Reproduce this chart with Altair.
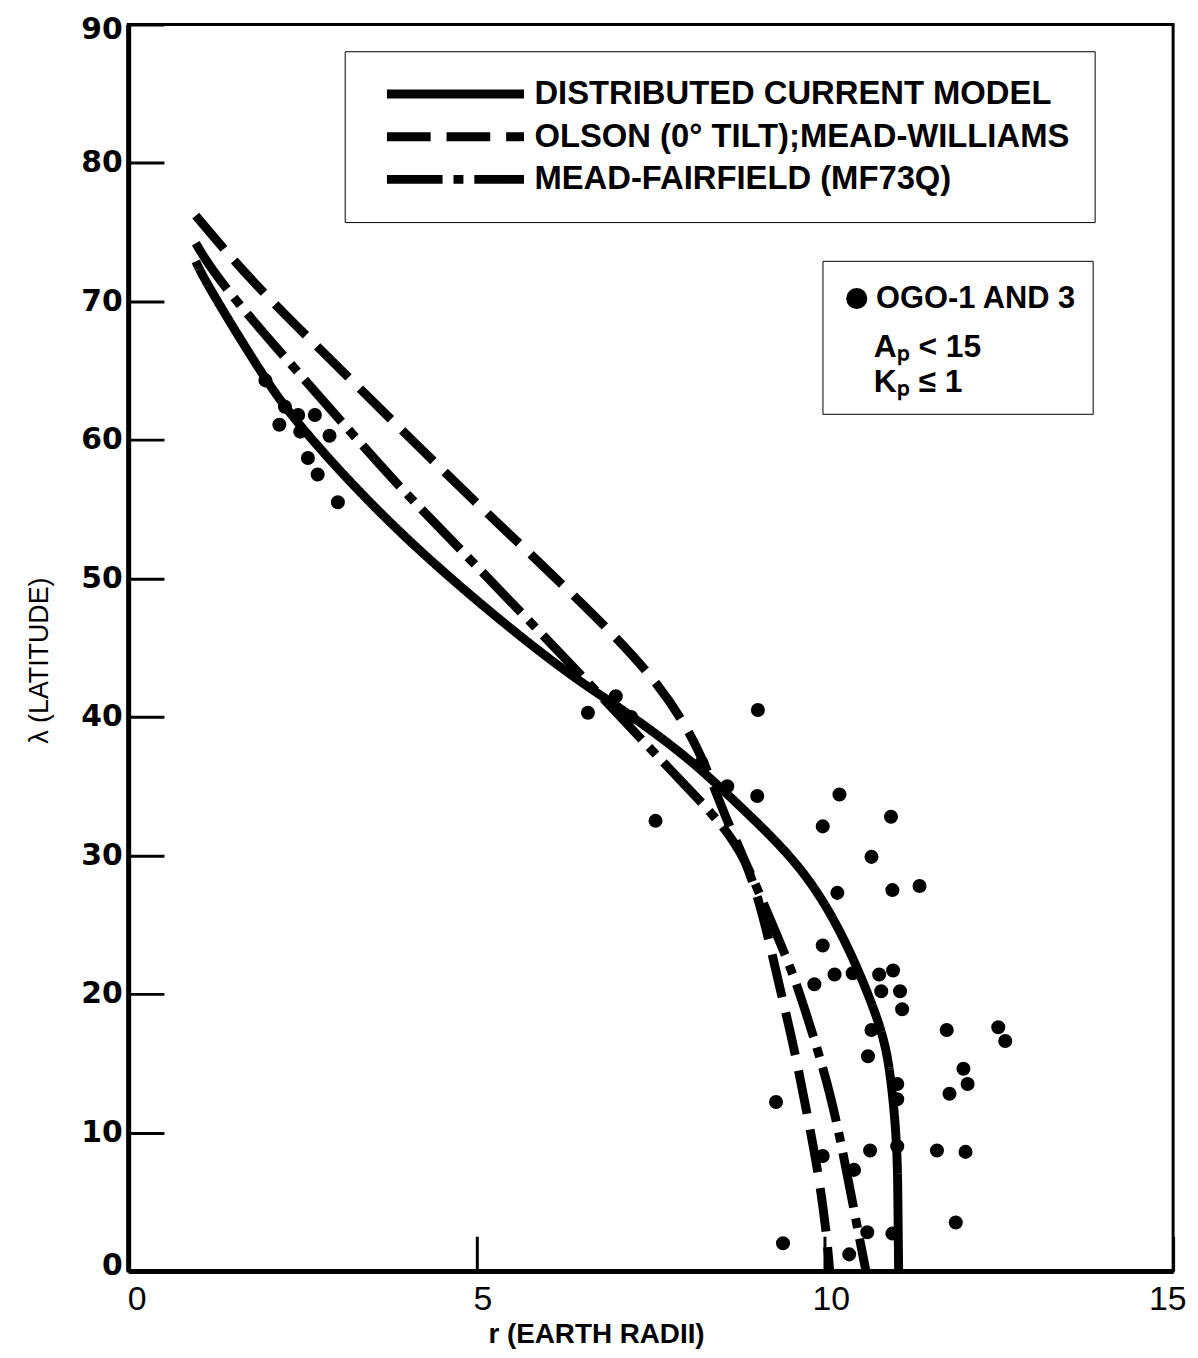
import altair as alt
import pandas as pd

FONT = "Liberation Sans, Arial, sans-serif"
NUMFONT = "DejaVu Sans, sans-serif"

MODELS = ["DISTRIBUTED CURRENT MODEL", "OLSON (0° TILT);MEAD-WILLIAMS", "MEAD-FAIRFIELD (MF73Q)"]

# Distributed current model (solid)
dcm_r = [0.97, 1.11, 1.97, 2.48, 3.96, 6.15, 7.00, 8.04, 8.71, 9.67, 10.24, 10.61, 10.85, 10.95, 11.04, 11.05, 11.06]
dcm_lat = [72.9, 71.4, 64.3, 60.8, 52.7, 43.6, 40.9, 37.1, 33.9, 29.3, 24.5, 20.2, 16.9, 14.0, 9.2, 4.7, 0.0]

# Olson (0 deg tilt); Mead-Williams (dashed)
ols_r = [0.97, 1.77, 3.05, 4.29, 5.30, 6.40, 7.61, 8.24, 8.57, 9.00, 9.33, 9.54, 9.74, 9.90, 10.02, 10.07]
ols_lat = [76.2, 71.4, 65.1, 58.9, 54.0, 48.8, 42.7, 37.4, 32.6, 28.3, 20.9, 16.6, 11.5, 7.3, 3.0, 0.0]

# Mead-Fairfield MF73Q (dash-dot)
mf_r = [0.97, 1.30, 2.68, 3.82, 4.29, 6.57, 7.81, 8.71, 9.03, 9.53, 9.68, 10.10, 10.38, 10.59]
mf_lat = [74.2, 71.4, 63.5, 57.0, 54.6, 42.7, 36.0, 31.4, 27.6, 21.7, 19.4, 12.8, 5.4, 0.0]

# OGO-1 and 3 observations
obs_r = [1.97, 2.25, 2.44, 2.68, 2.17, 2.47, 2.89, 2.58, 2.72, 3.01,
         6.60, 7.00, 7.22, 9.04, 7.57, 9.03, 8.60, 8.23, 9.97, 10.21,
         10.95, 10.67, 10.18, 10.97, 11.36, 9.97, 10.14, 9.85, 10.40, 10.78,
         10.98, 10.81, 11.08, 11.11, 10.67, 11.75, 12.49, 12.59, 10.62, 11.99,
         12.05, 11.79, 11.04, 11.04, 9.30, 10.65, 11.61, 12.02, 11.04, 9.97,
         10.42, 11.88, 10.61, 10.97, 9.40, 10.35]
obs_lat = [64.3, 62.4, 61.8, 61.8, 61.1, 60.6, 60.3, 58.7, 57.5, 55.5,
           40.3, 41.5, 40.0, 40.5, 32.5, 34.3, 35.0, 36.7, 32.1, 34.4,
           32.8, 29.9, 27.3, 27.5, 27.8, 23.5, 21.4, 20.7, 21.5, 21.4,
           21.7, 20.2, 20.2, 18.9, 17.4, 17.4, 17.6, 16.6, 15.5, 14.6,
           13.5, 12.8, 13.5, 12.4, 12.2, 8.7, 8.7, 8.6, 9.0, 8.3,
           7.3, 3.5, 2.8, 2.7, 2.0, 1.2]

x_ticks = [0, 5, 10, 15]
y_ticks = [0, 10, 20, 30, 40, 50, 60, 70, 80, 90]

frames = []
for name, rs, lats in zip(MODELS, [dcm_r, ols_r, mf_r], [dcm_lat, ols_lat, mf_lat]):
    frames.append(pd.DataFrame({"r": rs, "lat": lats, "model": name, "ord": list(range(len(rs)))}))
lines_df = pd.concat(frames, ignore_index=True)
obs_df = pd.DataFrame({"r": obs_r, "lat": obs_lat, "src": "OGO-1 AND 3"})

x_scale = alt.Scale(domain=[0, 15], nice=False, zero=False)
y_scale = alt.Scale(domain=[0, 90], nice=False, zero=False)

x_axis = alt.Axis(values=x_ticks, format="d", title="r (EARTH RADII)", titleFont=FONT, titleFontSize=28,
                  titleFontWeight="bold", titleColor="black", titleX=471, titleY=64, titleBaseline="middle",
                  labelFont=FONT, labelFontSize=34, labelColor="black", labelPadding=12,
                  labelFlush=True, labelFlushOffset=7, labelOffset=6,
                  ticks=False, domainColor="black", domainWidth=5,
                  grid=True, gridColor="black", gridWidth=3, gridOpacity=1,
                  gridDash=[35, 1220], gridDashOffset=35)
y_axis = alt.Axis(values=y_ticks, format="d", title="λ (LATITUDE)", titleFont=FONT, titleFontSize=27,
                  titleFontWeight="normal", titleColor="black", titleX=-89, titleY=640,
                  titleBaseline="middle", titleAngle=-90,
                  labelFont=NUMFONT, labelFontSize=30, labelFontWeight="bold", labelColor="black",
                  labelPadding=6, labelFlush=True, labelFlushOffset=10,
                  ticks=False, domainColor="black", domainWidth=5,
                  grid=True, gridColor="black", gridWidth=3, gridOpacity=1, gridDash=[36, 3000])

lines = alt.Chart(lines_df).mark_line(color="black", strokeWidth=9, interpolate="basis",
                                      strokeCap="butt").encode(
    x=alt.X("r:Q", scale=x_scale, axis=x_axis),
    y=alt.Y("lat:Q", scale=y_scale, axis=y_axis),
    order="ord:Q",
    strokeDash=alt.StrokeDash(
        "model:N",
        scale=alt.Scale(domain=MODELS, range=[[1, 0], [44, 16], [56, 11, 10, 11]]),
        legend=alt.Legend(title=None, orient="none", legendX=218, legendY=27, direction="vertical",
                          symbolType="stroke", symbolSize=138 * 138, symbolStrokeWidth=9,
                          symbolStrokeColor="black", symbolOffset=13, clipHeight=36, rowPadding=7,
                          labelFont=FONT, labelFontSize=33, labelFontWeight="bold", labelColor="black",
                          labelOffset=6, labelLimit=0, padding=25, strokeColor="black",
                          fillColor="white", cornerRadius=0),
    ),
)

PAD = "\u200b" + "\u00a0" * 4
points = alt.Chart(obs_df).mark_circle(size=200, opacity=1).encode(
    x=alt.X("r:Q", scale=x_scale),
    y=alt.Y("lat:Q", scale=y_scale),
    color=alt.Color(
        "src:N",
        scale=alt.Scale(domain=["OGO-1 AND 3"], range=["black"]),
        legend=alt.Legend(title=[PAD + "A\u209a < 15", PAD + "K\u209a \u2264 1"],
                          titleOrient="bottom", titleAnchor="start", titleAlign="left",
                          titleFont=FONT, titleFontSize=32, titleFontWeight="bold", titleColor="black",
                          titleLineHeight=35, titlePadding=12,
                          orient="none", legendX=699, legendY=238, symbolType="circle",
                          symbolSize=450, symbolFillColor="black", symbolStrokeWidth=0,
                          clipHeight=44,
                          labelFont=FONT, labelFontSize=31, labelFontWeight="bold", labelColor="black",
                          labelOffset=4, labelLimit=0, padding=16, symbolOffset=3,
                          strokeColor="black", fillColor="white", cornerRadius=0),
    ),
)

chart = alt.layer(lines, points).properties(
    width=1052, height=1255,
    autosize=alt.AutoSizeParams(type="none"),
    padding={"left": 121, "top": 12, "right": 17, "bottom": 75},
    background="white",
).configure_view(stroke="black", strokeWidth=3)

chart.save("out.html", embed_options={"renderer": "svg", "actions": False})
